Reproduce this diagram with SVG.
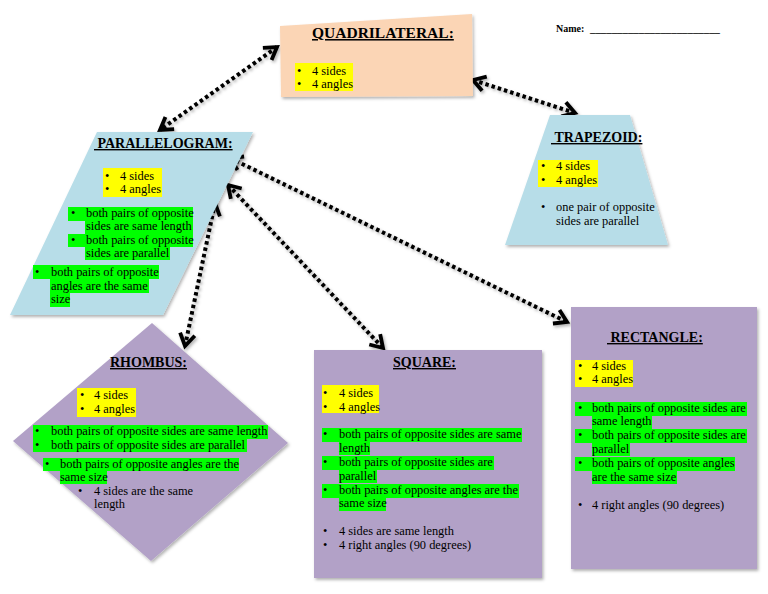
<svg xmlns="http://www.w3.org/2000/svg" width="768" height="594" viewBox="0 0 768 594">
<style>
text{font-family:"Liberation Serif","Times New Roman",serif;fill:#000}
.t{font-size:12.4px}
.h{font-size:14px;font-weight:bold;text-decoration:underline}
.hq{font-size:15.5px;font-weight:bold;text-decoration:underline}
.y{fill:#ffff00}
.g{fill:#00ff00}
.conn{stroke:#000;stroke-width:4;stroke-dasharray:3.5 3;fill:none;marker-start:url(#chev);marker-end:url(#chev)}
</style>
<defs>
<filter id="sh" x="-10%" y="-10%" width="130%" height="130%">
<feDropShadow dx="1.5" dy="2" stdDeviation="1.5" flood-color="#000" flood-opacity="0.3"/>
</filter>
<marker id="chev" markerUnits="userSpaceOnUse" viewBox="-16 -10 20 20" refX="0" refY="0" markerWidth="20" markerHeight="20" orient="auto-start-reverse" overflow="visible">
<path d="M -12 -7.5 L 0 0 L -12 7.5" fill="none" stroke="#000" stroke-width="3.8" stroke-linejoin="miter" stroke-linecap="butt"/>
</marker>
</defs>
<rect width="768" height="594" fill="#fff"/>

<text class="t" style="font-size:10px;font-weight:bold" x="556" y="32">Name:<tspan x="590" textLength="130" lengthAdjust="spacingAndGlyphs">________________________</tspan></text>

<g id="connectors" filter="url(#sh)">
<line class="conn" x1="277" y1="47" x2="160" y2="130"/>
<line class="conn" x1="473" y1="80" x2="575" y2="113"/>
<line class="conn" x1="215" y1="203" x2="185" y2="346"/>
<line class="conn" x1="228" y1="185" x2="383" y2="348"/>
<line class="conn" x1="230" y1="158" x2="567" y2="322"/>
</g>

<g id="quadrilateral">
<polygon points="280,26 472,14 473,96 281,97" fill="#fbd5b5" filter="url(#sh)"/>
<text class="hq" x="312" y="38">QUADRILATERAL:</text>
<rect class="y" x="295" y="63" width="58" height="28"/>
<text class="t" x="297" y="75">•</text><text class="t" x="312" y="75">4 sides</text>
<text class="t" x="297" y="88">•</text><text class="t" x="312" y="88">4 angles</text>
</g>

<g id="parallelogram">
<polygon points="97,132 253,132 163,315 10,315" fill="#b7dde8" filter="url(#sh)"/>
<text class="h" x="94" y="148">&#160;PARALLELOGRAM:</text>
<rect class="y" x="103" y="168" width="59" height="29"/>
<text class="t" x="105" y="180">•</text><text class="t" x="120" y="180">4 sides</text>
<text class="t" x="105" y="193">•</text><text class="t" x="120" y="193">4 angles</text>
<rect class="g" x="68" y="207" width="125" height="14"/>
<rect class="g" x="85" y="221" width="108" height="13"/>
<rect class="g" x="68" y="234" width="125" height="13"/>
<rect class="g" x="85" y="247" width="85" height="13"/>
<text class="t" x="71" y="217">•</text><text class="t" x="86" y="217">both pairs of opposite</text>
<text class="t" x="86" y="230">sides are same length</text>
<text class="t" x="71" y="244">•</text><text class="t" x="86" y="244">both pairs of opposite</text>
<text class="t" x="86" y="257">sides are parallel</text>
<rect class="g" x="33" y="265" width="126" height="14"/>
<rect class="g" x="50" y="279" width="99" height="14"/>
<rect class="g" x="50" y="293" width="20" height="14"/>
<text class="t" x="35" y="276">•</text><text class="t" x="51" y="276">both pairs of opposite</text>
<text class="t" x="51" y="290">angles are the same</text>
<text class="t" x="51" y="303">size</text>
</g>

<g id="trapezoid">
<polygon points="550,115 630,115 668,245 505,245" fill="#b7dde8" filter="url(#sh)"/>
<text class="h" x="551" y="142">&#160;TRAPEZOID:</text>
<rect class="y" x="538" y="160" width="60" height="27"/>
<text class="t" x="541" y="170">•</text><text class="t" x="556" y="170">4 sides</text>
<text class="t" x="541" y="184">•</text><text class="t" x="556" y="184">4 angles</text>
<text class="t" x="541" y="211">•</text><text class="t" x="556" y="211">one pair of opposite</text>
<text class="t" x="556" y="225">sides are parallel</text>
</g>

<g id="rhombus">
<polygon points="152,323 288,443 151,561 13,441" fill="#b2a1c7" filter="url(#sh)"/>
<text class="h" x="110" y="367">RHOMBUS:</text>
<rect class="y" x="77" y="388" width="59" height="29"/>
<text class="t" x="80" y="399">•</text><text class="t" x="94" y="399">4 sides</text>
<text class="t" x="80" y="413">•</text><text class="t" x="94" y="413">4 angles</text>
<rect class="g" x="33" y="425" width="235" height="14"/>
<rect class="g" x="33" y="439" width="214" height="13"/>
<text class="t" x="35" y="435">•</text><text class="t" x="51" y="435">both pairs of opposite sides are same length</text>
<text class="t" x="35" y="449">•</text><text class="t" x="51" y="449">both pairs of opposite sides are parallel</text>
<rect class="g" x="43" y="458" width="196" height="13"/>
<rect class="g" x="60" y="471" width="47" height="13"/>
<text class="t" x="45" y="468">•</text><text class="t" x="60" y="468">both pairs of opposite angles are the</text>
<text class="t" x="60" y="481">same size</text>
<text class="t" x="78" y="495">•</text><text class="t" x="94" y="495">4 sides are the same</text>
<text class="t" x="94" y="508">length</text>
</g>

<g id="square">
<rect x="314" y="350" width="228" height="228" fill="#b2a1c7" filter="url(#sh)"/>
<text class="h" x="393" y="367">SQUARE:</text>
<rect class="y" x="322" y="385" width="57" height="28"/>
<text class="t" x="323" y="397">•</text><text class="t" x="339" y="397">4 sides</text>
<text class="t" x="323" y="411">•</text><text class="t" x="339" y="411">4 angles</text>
<rect class="g" x="322" y="428" width="200" height="14"/>
<rect class="g" x="339" y="442" width="31" height="13"/>
<rect class="g" x="322" y="456" width="172" height="14"/>
<rect class="g" x="339" y="470" width="38" height="13"/>
<rect class="g" x="322" y="484" width="197" height="14"/>
<rect class="g" x="339" y="498" width="47" height="13"/>
<text class="t" x="323" y="438">•</text><text class="t" x="339" y="438">both pairs of opposite sides are same</text>
<text class="t" x="339" y="452">length</text>
<text class="t" x="323" y="466">•</text><text class="t" x="339" y="466">both pairs of opposite sides are</text>
<text class="t" x="339" y="480">parallel</text>
<text class="t" x="323" y="494">•</text><text class="t" x="339" y="494">both pairs of opposite angles are the</text>
<text class="t" x="339" y="507">same size</text>
<text class="t" x="323" y="535">•</text><text class="t" x="339" y="535">4 sides are same length</text>
<text class="t" x="323" y="549">•</text><text class="t" x="339" y="549">4 right angles (90 degrees)</text>
</g>

<g id="rectangle">
<rect x="571" y="307" width="186" height="262" fill="#b2a1c7" filter="url(#sh)"/>
<text class="h" x="607" y="342">&#160;RECTANGLE:</text>
<rect class="y" x="575" y="360" width="58" height="27"/>
<text class="t" x="578" y="370">•</text><text class="t" x="592" y="370">4 sides</text>
<text class="t" x="578" y="383">•</text><text class="t" x="592" y="383">4 angles</text>
<rect class="g" x="575" y="402" width="172" height="14"/>
<rect class="g" x="592" y="416" width="60" height="13"/>
<rect class="g" x="575" y="429" width="172" height="14"/>
<rect class="g" x="592" y="443" width="38" height="13"/>
<rect class="g" x="575" y="457" width="160" height="14"/>
<rect class="g" x="592" y="471" width="85" height="13"/>
<text class="t" x="578" y="412">•</text><text class="t" x="592" y="412">both pairs of opposite sides are</text>
<text class="t" x="592" y="425">same length</text>
<text class="t" x="578" y="439">•</text><text class="t" x="592" y="439">both pairs of opposite sides are</text>
<text class="t" x="592" y="453">parallel</text>
<text class="t" x="578" y="467">•</text><text class="t" x="592" y="467">both pairs of opposite angles</text>
<text class="t" x="592" y="481">are the same size</text>
<text class="t" x="578" y="509">•</text><text class="t" x="592" y="509">4 right angles (90 degrees)</text>
</g>
</svg>
